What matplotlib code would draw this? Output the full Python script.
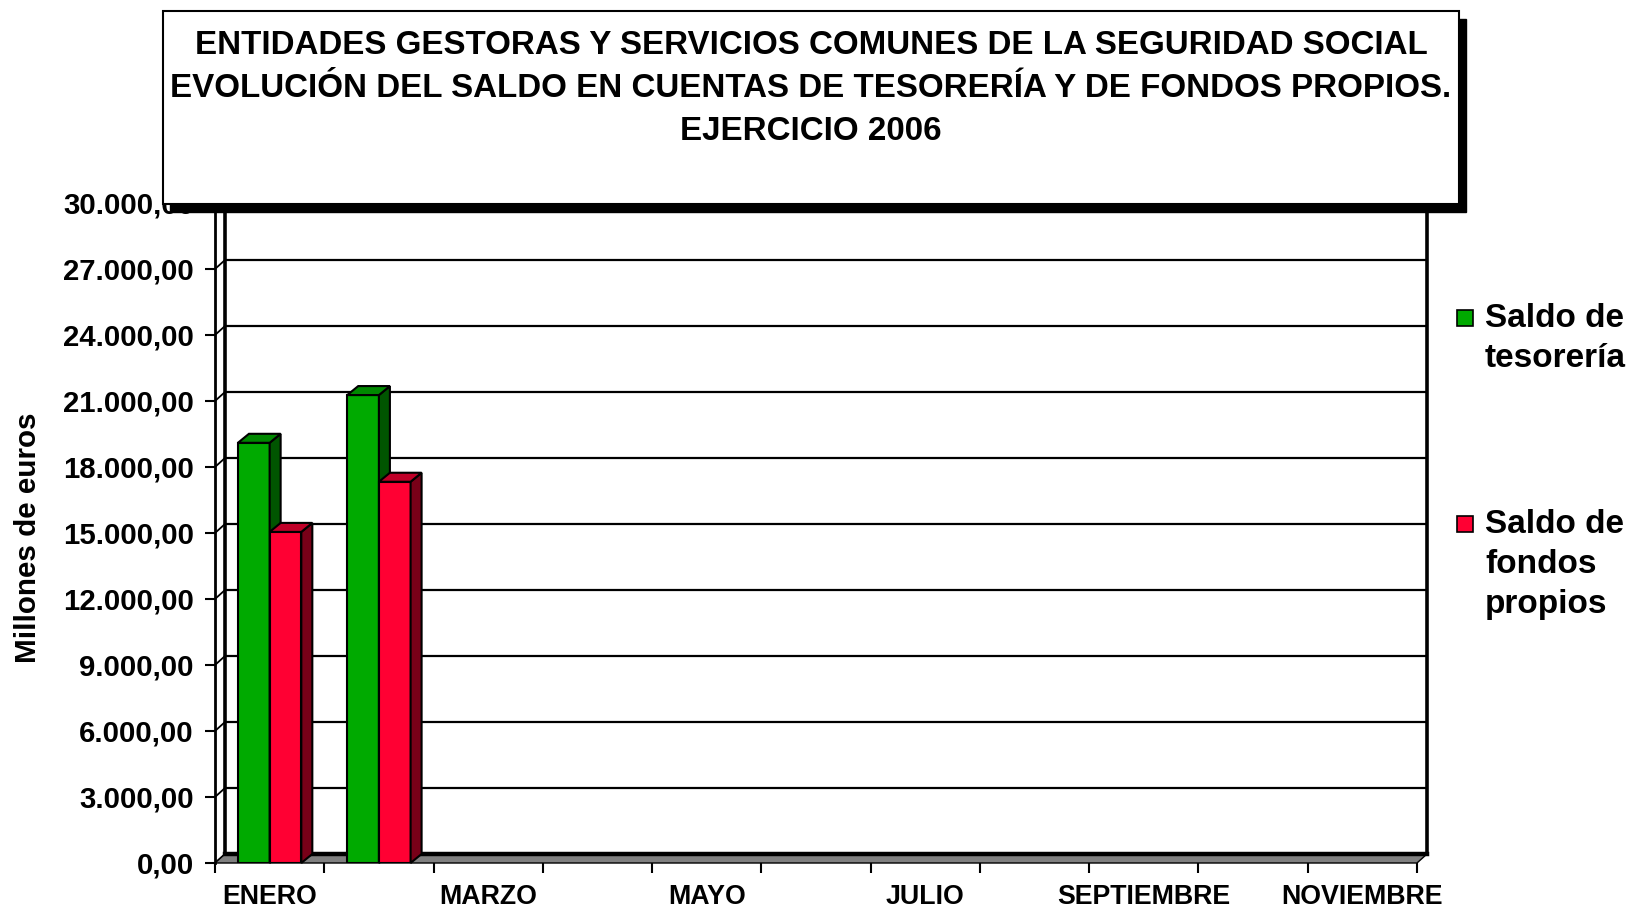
import matplotlib
matplotlib.use('Agg')
import matplotlib.pyplot as plt
from matplotlib.patches import Polygon, Rectangle
import numpy as np

plt.rcParams['font.family'] = ['Liberation Sans', 'DejaVu Sans']

# ---------------- data ----------------
months = ['ENERO', 'FEBRERO', 'MARZO', 'ABRIL', 'MAYO', 'JUNIO', 'JULIO',
          'AGOSTO', 'SEPTIEMBRE', 'OCTUBRE', 'NOVIEMBRE']
tesoreria = [19100, 21270]
fondos = [15050, 17330]
series_names = ['Saldo de\ntesorería', 'Saldo de\nfondos\npropios']
yticks = list(range(0, 30001, 3000))
title_lines = ['ENTIDADES GESTORAS Y SERVICIOS COMUNES DE LA SEGURIDAD SOCIAL',
               'EVOLUCIÓN DEL SALDO EN CUENTAS DE TESORERÍA Y DE FONDOS PROPIOS.',
               'EJERCICIO 2006']
ylabel = 'Millones de euros'


def fmt(v):
    s = f"{v:,.2f}"
    return s.replace(',', 'X').replace('.', ',').replace('X', '.')


ytick_labels = [fmt(v) for v in yticks]

# ---------------- figure ----------------
W, H, DPI = 1629, 907, 100
fig = plt.figure(figsize=(W / DPI, H / DPI), dpi=DPI)
fig.patch.set_facecolor('white')


def fx(px):
    return px / W


def fy(py):
    return 1 - py / H


X0, X1, Y0, Y1 = 215, 1417, 863, 203
ax = fig.add_axes([fx(X0), fy(Y0), (X1 - X0) / W, (Y0 - Y1) / H])
n = len(months)
YMAX = 30000
ax.set_xlim(0, n)
ax.set_ylim(0, YMAX)
ax.patch.set_visible(False)
for s in ax.spines.values():
    s.set_visible(False)

ppx = (X1 - X0) / n
ppy = (Y0 - Y1) / YMAX
WDX, WDY = 10 / ppx, 9 / ppy   # wall depth
BDX, BDY = 11 / ppx, 9 / ppy   # bar depth

# back wall grid lines
for v in yticks[1:]:
    ax.plot([WDX, n + WDX], [v + WDY, v + WDY], color='black', lw=1.6,
            clip_on=False, zorder=1, solid_capstyle='butt')
# connectors from front ticks to back wall
for v in yticks:
    ax.plot([0, WDX], [v, v + WDY], color='black', lw=1.3, clip_on=False, zorder=1)
# back wall left line, right wall line
ax.plot([WDX, WDX], [WDY, YMAX + WDY], color='black', lw=2.6, clip_on=False, zorder=1)
ax.plot([n + WDX, n + WDX], [WDY, YMAX + WDY], color='black', lw=2.6, clip_on=False, zorder=1)
# front left axis line
ax.plot([0, 0], [0, YMAX], color='black', lw=2.0, clip_on=False, zorder=1)

# floor
floor = Polygon([(0, 0), (n, 0), (n + WDX, WDY), (WDX, WDY)], closed=True,
                facecolor='#808080', edgecolor='black', lw=1.0, clip_on=False, zorder=2)
ax.add_patch(floor)
ax.plot([WDX, n + WDX], [WDY, WDY], color='black', lw=3.2, clip_on=False, zorder=2.5)

# bars (front faces via ax.bar, depth faces from the same values)
bw = 0.29
xc = np.arange(len(tesoreria)) + 0.5
series = [
    (tesoreria, xc - bw, '#00AA00', '#008800', '#005500'),
    (fondos, xc, '#FF0033', '#C00028', '#780018'),
]
for k, (vals, left, cf, ct, cs) in enumerate(series):
    z = 3 + k
    ax.bar(left, vals, width=bw, align='edge', color=cf, edgecolor='black',
           lw=1.5, zorder=z)
    for x0, h in zip(left, vals):
        x1 = x0 + bw
        top = Polygon([(x0, h), (x1, h), (x1 + BDX, h + BDY), (x0 + BDX, h + BDY)],
                      closed=True, facecolor=ct, edgecolor='black', lw=1.5,
                      zorder=z, clip_on=False)
        side = Polygon([(x1, 0), (x1 + BDX, BDY), (x1 + BDX, h + BDY), (x1, h)],
                       closed=True, facecolor=cs, edgecolor='black', lw=1.5,
                       zorder=z, clip_on=False)
        ax.add_patch(side)
        ax.add_patch(top)

# ticks
ax.set_yticks(yticks)
ax.set_yticklabels(ytick_labels, fontsize=21.2, fontweight='bold')
ax.tick_params(axis='y', length=7.2, width=1.5, pad=8.0, direction='out')
ax.set_xticks(range(n + 1))
ax.set_xticklabels([''] * (n + 1))
ax.tick_params(axis='x', which='major', length=7.2, width=1.5, direction='out')
ax.set_xticks([i + 0.5 for i in range(0, n, 2)], minor=True)
ax.set_xticklabels([months[i] for i in range(0, n, 2)], minor=True,
                   fontsize=19.3, fontweight='bold')
ax.tick_params(axis='x', which='minor', length=0, pad=15)

# y label
fig.text(fx(28), fy(538), ylabel, rotation=90, ha='center', va='center',
         fontsize=21.3, fontweight='bold')

# title box with shadow
bx0, by0, bx1, by1 = 163, 11, 1459, 204
shadow = Rectangle((fx(bx0 + 7), fy(by1 + 8)), (bx1 - bx0) / W, (by1 - by0) / H,
                   transform=fig.transFigure, facecolor='black', edgecolor='black',
                   zorder=10)
box = Rectangle((fx(bx0), fy(by1)), (bx1 - bx0) / W, (by1 - by0) / H,
                transform=fig.transFigure, facecolor='white', edgecolor='black',
                lw=1.5, zorder=11)
fig.add_artist(shadow)
fig.add_artist(box)
for i, line in enumerate(title_lines):
    fig.text(fx(811), fy(54 + 43 * i), line, ha='center', va='baseline',
             fontsize=23.9, fontweight='bold', zorder=12)

# legend
leg_colors = ['#00AA00', '#FF0033']
leg_y = [327, 533]
for name, col, yb in zip(series_names, leg_colors, leg_y):
    sq = Rectangle((fx(1457), fy(yb - 1)), 16 / W, 16 / H, transform=fig.transFigure,
                   facecolor=col, edgecolor='black', lw=1.2, zorder=5)
    fig.add_artist(sq)
    for j, ln in enumerate(name.split('\n')):
        fig.text(fx(1485), fy(yb + 40 * j), ln, ha='left', va='baseline',
                 fontsize=24, fontweight='bold')

fig.savefig('out.png', dpi=DPI)
